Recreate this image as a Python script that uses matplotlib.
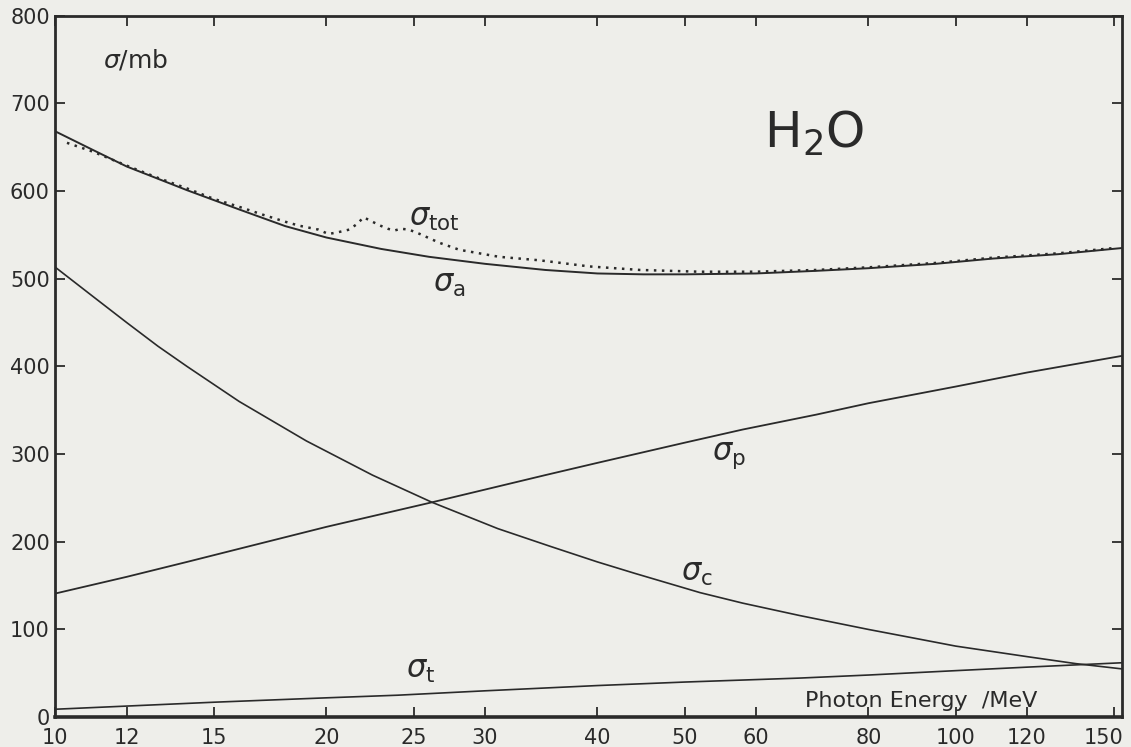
import matplotlib
matplotlib.use("Agg")
import matplotlib.pyplot as plt
import matplotlib.transforms as mtransforms

# values (energy in MeV, cross section in mb)
energy_a = [10, 11, 12, 13, 14, 16, 18, 20, 23, 26, 30, 35, 40, 45, 50, 60, 70, 80, 95, 110, 130, 153]
sigma_a = [668, 647, 628, 614, 601, 579, 560, 547, 534, 525, 517, 510, 506, 505, 505, 506, 509, 512, 517, 523, 528, 535]

energy_tot = [10.3, 11, 12, 13, 14, 15, 16, 17, 18, 18.65, 19.6, 20.1, 20.6, 21.2, 21.6, 22.0, 22.4,
              22.9, 23.4, 23.8, 24.2, 24.7, 25.4, 26.7, 28.1, 31.1, 34.5, 39.2, 44.6, 51.9, 60,
              70, 80, 95, 110, 130, 150]
sigma_tot = [655, 645, 629, 615, 603, 591, 582, 573, 565, 560.5, 556, 551, 553, 556, 562, 570, 566,
             561, 557, 555, 557, 556, 551, 541, 533, 525, 521, 514, 510, 508, 508,
             510, 513, 518, 524, 529, 535]

energy_c = [10, 11, 12, 13, 14, 16, 19, 22.5, 26.2, 31, 35.4, 40, 44, 52, 58, 67, 80, 90, 100, 120, 136, 153]
sigma_c = [513, 480, 450, 423, 400, 360, 315, 276, 245, 215, 195, 177, 164, 142, 130, 116, 100, 90, 81, 69, 61, 55]

energy_p = [10, 12, 14, 16, 20, 26.2, 31, 35, 40, 50, 58, 70, 80, 100, 120, 153]
sigma_p = [141, 160, 177, 192, 217, 245, 263, 276, 290, 313, 328, 345, 358, 377, 393, 412]

energy_t = [10, 15, 20, 24, 30, 40, 50, 67, 80, 100, 120, 153]
sigma_t = [9, 17, 22, 25, 30, 36, 40, 44.5, 48, 53, 57, 62]

x_ticks = [10, 12, 15, 20, 25, 30, 40, 50, 60, 80, 100, 120, 150]
y_ticks = [0, 100, 200, 300, 400, 500, 600, 700, 800]

bg = '#eeeeea'
ink = '#2a2a2a'

plt.rcParams['mathtext.fontset'] = 'dejavusans'

fig = plt.figure(figsize=(11.31, 7.47), dpi=100, facecolor=bg)
ax = fig.add_axes([0.049, 0.040, 0.943, 0.939], facecolor=bg)

ax.plot(energy_a, sigma_a, color=ink, lw=1.4)
ax.plot(energy_tot, sigma_tot, color=ink, lw=1.8, ls=(0, (1, 2.2)))
ax.plot(energy_c, sigma_c, color=ink, lw=1.2)
ax.plot(energy_p, sigma_p, color=ink, lw=1.3)
ax.plot(energy_t, sigma_t, color=ink, lw=1.2)

ax.set_xscale('log')
ax.set_xlim(10, 153)
ax.set_ylim(0, 800)
ax.set_xticks(x_ticks)
ax.set_xticklabels([str(v) for v in x_ticks])
ax.minorticks_off()
ax.set_yticks(y_ticks)
ax.tick_params(direction='in', length=7, width=1.3, colors=ink, labelsize=15,
               top=True, right=True, labeltop=False, labelright=False)
ax.tick_params(axis='x', pad=8)
ax.tick_params(axis='y', pad=4)
for s in ax.spines.values():
    s.set_color(ink)
    s.set_linewidth(2.0)
ax.spines['bottom'].set_linewidth(2.6)

# nudge the last x label so it stays inside the figure
last = ax.get_xticklabels()[-1]
last.set_transform(last.get_transform() + mtransforms.ScaledTranslation(-8 / 72, 0, fig.dpi_scale_trans))

# labels
ax.text(11.3, 741, r'$\sigma$/mb', fontsize=18, color=ink, va='baseline')
ax.text(61.2, 649, r'$\mathregular{H_2O}$', fontsize=36, color=ink, va='baseline')
ax.text(24.7, 560, r'$\sigma_{\mathregular{tot}}$', fontsize=22, color=ink, va='baseline')
ax.text(26.3, 485, r'$\sigma_{\mathregular{a}}$', fontsize=22, color=ink, va='baseline')
ax.text(53.6, 293, r'$\sigma_{\mathregular{p}}$', fontsize=22, color=ink, va='baseline')
ax.text(49.5, 155, r'$\sigma_{\mathregular{c}}$', fontsize=22, color=ink, va='baseline')
ax.text(24.5, 45, r'$\sigma_{\mathregular{t}}$', fontsize=22, color=ink, va='baseline')
ax.text(68.1, 11.5, 'Photon Energy  /MeV', fontsize=16, color=ink, va='baseline')

fig.savefig('out.png', dpi=100, facecolor=bg)
